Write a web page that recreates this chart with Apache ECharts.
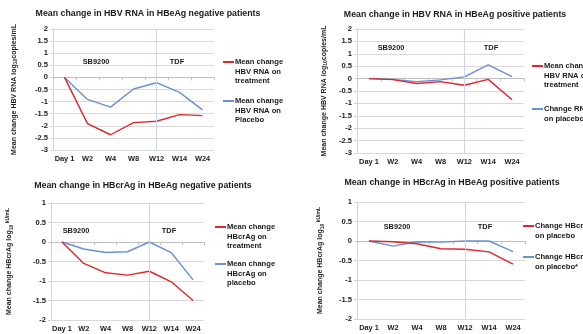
<!DOCTYPE html>
<html>
<head>
<meta charset="utf-8">
<script src="https://cdn.jsdelivr.net/npm/echarts@6/dist/echarts.min.js"></script>
<style>
html,body{margin:0;padding:0;background:#fff;}
#c{width:583px;height:334px;}
</style>
</head>
<body>
<div id="c"></div>
<script>
// ---- data ----
const categories = ['Day 1', 'W2', 'W4', 'W8', 'W12', 'W14', 'W24'];
const rnaNegTreat   = [0, -1.91, -2.37, -1.87, -1.81, -1.54, -1.58];
const rnaNegPlacebo = [0, -0.91, -1.23, -0.48, -0.22, -0.62, -1.34];
const rnaPosTreat   = [0, -0.04, -0.20, -0.12, -0.27, -0.03, -0.85];
const rnaPosPlacebo = [0, -0.03, -0.12, -0.05, 0.07, 0.55, 0.08];
const crNegTreat    = [0, -0.55, -0.79, -0.85, -0.75, -1.02, -1.50];
const crNegPlacebo  = [0, -0.18, -0.27, -0.25, 0.00, -0.27, -0.97];
const crPosTreat    = [0, -0.02, -0.07, -0.20, -0.21, -0.28, -0.59];
const crPosPlacebo  = [0, -0.13, -0.02, -0.03, 0.00, 0.00, -0.27];
const rnaRange = [-3, 2];
const crRange = [-2, 1];
const tickStep = 0.5;
const switchWeek = 'W12';
const titles = [
  'Mean change in HBV RNA in HBeAg negative patients',
  'Mean change in HBV RNA in HBeAg positive patients',
  'Mean change in HBcrAg in HBeAg negative patients',
  'Mean change in HBcrAg in HBeAg positive patients'
];
const legendNames = [
  ['Mean change\nHBV RNA on\ntreatment', 'Mean change\nHBV RNA on\nPlacebo'],
  ['Mean change\nHBV RNA on\ntreatment ', 'Change RNA\non placebo*'],
  ['Mean change\nHBcrAg on\ntreatment', 'Mean change\nHBcrAg on\nplacebo'],
  ['Change HBcrAg\non placebo', 'Change HBcrAg\non placebo*']
];
const phaseLabels = ['SB9200', 'TDF'];

// ---- style ----
const FONT = "'Liberation Sans', Arial, sans-serif";
const RED = '#e0262c';
const BLUE = '#6891cf';
const grids = [
  {left: 53, top: 29, width: 161, height: 121},
  {left: 357, top: 29, width: 167, height: 124},
  {left: 51, top: 203, width: 153, height: 117},
  {left: 357, top: 202, width: 168, height: 117}
];
const ranges = [rnaRange, rnaRange, crRange, crRange];
const seriesData = [
  [rnaNegTreat, rnaNegPlacebo],
  [rnaPosTreat, rnaPosPlacebo],
  [crNegTreat, crNegPlacebo],
  [crPosTreat, crPosPlacebo]
];
const titlePos = [[148, 9], [455, 10], [143, 181], [452, 178]];
const nameGaps = [35, 29, 37, 32];
const legendPos = [
  [[223, 62], [223, 101]],
  [[532, 66], [532, 109]],
  [[215, 227], [215, 264]],
  [[523, 226], [523, 257]]
];
const annPos = [
  [[96, 62], [177, 62]],
  [[391, 48], [491, 48]],
  [[76, 231], [169, 231]],
  [[397, 227], [485, 227]]
];
const LH = 9.5;

const rnaName = '{a|Mean change HBV RNA log}{s|10}{a|copies/mL}';
const crName = '{a|Mean change HBcrAg log}{s|10}{k| kU/mL}';
const nameRich = {
  a: {fontSize: 7, fontWeight: 'bold', fontFamily: FONT, color: '#222'},
  s: {fontSize: 5, fontWeight: 'bold', fontFamily: FONT, color: '#222', verticalAlign: 'bottom', padding: [3, 0, 0, 0]},
  k: {fontSize: 5, fontWeight: 'bold', fontFamily: FONT, color: '#222', verticalAlign: 'top', padding: [0, 0, 4, 0]}
};

const option = {
  backgroundColor: '#fff',
  animation: false,
  title: titles.map((t, i) => ({
    text: t, left: titlePos[i][0], top: titlePos[i][1], textAlign: 'center', padding: 0,
    textStyle: {fontSize: 8.8, fontWeight: 'bold', fontFamily: FONT, color: '#1a1a1a'}
  })),
  grid: grids.map(g => Object.assign({containLabel: false}, g)),
  xAxis: grids.map((g, i) => ({
    type: 'category', gridIndex: i, data: categories, boundaryGap: true,
    axisLine: {show: true, lineStyle: {color: '#bfbfbf', width: 1}},
    axisTick: {show: true, length: 3, lineStyle: {color: '#bfbfbf'}},
    axisLabel: {margin: 5, fontSize: 7.4, fontWeight: 'bold', fontFamily: FONT, color: '#1a1a1a', interval: 0},
    splitLine: {show: false}
  })),
  yAxis: grids.map((g, i) => ({
    type: 'value', gridIndex: i, min: ranges[i][0], max: ranges[i][1], interval: tickStep,
    name: i < 2 ? rnaName : crName, nameLocation: 'middle', nameGap: nameGaps[i],
    nameTextStyle: {rich: nameRich},
    axisLine: {show: true, lineStyle: {color: '#d4d4d4', width: 1}},
    axisTick: {show: true, length: 3, lineStyle: {color: '#d4d4d4'}},
    axisLabel: {margin: 5, fontSize: 7.6, fontWeight: 'bold', fontFamily: FONT, color: '#1a1a1a'},
    splitLine: {show: true, lineStyle: {color: '#d9d9d9', width: 1}}
  })),
  legend: [],
  series: [],
  graphic: []
};

for (let i = 0; i < 4; i++) {
  [RED, BLUE].forEach((col, k) => {
    const s = {
      type: 'line', name: legendNames[i][k], xAxisIndex: i, yAxisIndex: i,
      data: seriesData[i][k], color: col, symbol: 'none', smooth: false,
      lineStyle: {color: col, width: 1.4}, z: 3 - k
    };
    if (k === 1) {
      s.markLine = {
        silent: true, symbol: 'none', label: {show: false},
        lineStyle: {color: '#c9d6ea', width: 1, type: 'solid'},
        data: [{xAxis: switchWeek}]
      };
    }
    option.series.push(s);
    const nm = legendNames[i][k];
    const n = nm.split('\n').length;
    const pre = '\n'.repeat(n - 1);
    option.legend.push({
      data: [nm], left: legendPos[i][k][0], top: legendPos[i][k][1] - (2 * n - 1) * LH / 2,
      orient: 'vertical', padding: 0, itemWidth: 11, itemHeight: 2, itemGap: 0,
      icon: 'rect', selectedMode: false,
      formatter: name => pre + name,
      textStyle: {fontSize: 7.6, fontWeight: 'bold', fontFamily: FONT, color: '#1a1a1a', lineHeight: LH, padding: [0, 0, 0, -4]}
    });
  });
  phaseLabels.forEach((t, k) => {
    option.graphic.push({
      type: 'text', x: annPos[i][k][0], y: annPos[i][k][1], silent: true,
      style: {text: t, align: 'center', verticalAlign: 'middle', fill: '#1a1a1a',
        font: 'bold 7.4px ' + FONT}
    });
  });
}

const chart = echarts.init(document.getElementById('c'), null, {renderer: 'canvas'});
chart.setOption(option);
</script>
</body>
</html>
